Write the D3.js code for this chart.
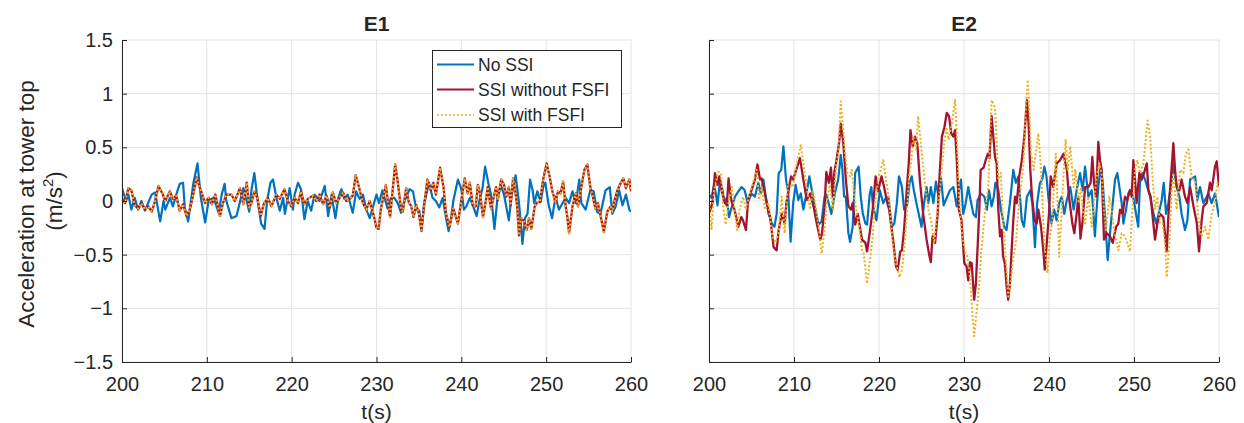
<!DOCTYPE html>
<html><head><meta charset="utf-8">
<script src="https://cdn.jsdelivr.net/npm/d3@7"></script>
<style>body{margin:0;background:#fff}svg{display:block}text{font-family:"Liberation Sans",Arial,sans-serif;fill:#262626}</style>
</head><body><svg id="c" width="1244" height="423"></svg>
<script>
const panels = ["E1", "E2"];
const seriesNames = ["No SSI", "SSI without FSFI", "SSI with FSFI"];
const xTicks = [200, 210, 220, 230, 240, 250, 260];
const yTicks = [-1.5, -1, -0.5, 0, 0.5, 1, 1.5];
const yTickLabels = ["\u22121.5", "\u22121", "\u22120.5", "0", "0.5", "1", "1.5"];

// E1 - No SSI
const e1BlueT = [200,200.47,200.75,201.1,201.5,201.9,202.3,202.7,203.5,203.9,204.5,204.9,205.1,205.65,206.0,206.4,206.8,207.2,207.4,207.8,208.4,208.9,209.3,209.8,210.2,210.8,211.4,211.75,212.1,212.3,212.9,213.5,214.3,214.7,215.0,215.25,215.6,216.0,216.4,216.8,217.1,217.5,217.8,218.2,218.6,219.0,219.2,219.76,220.15,220.35,220.75,221.1,221.5,221.9,222.3,222.7,223.3,223.9,224.3,224.7,225.15,225.5,225.85,226.2,226.6,227.2,227.6,228.0,228.4,228.8,229.2,230.0,230.3,230.7,231.3,231.7,232.1,232.5,232.9,233.3,233.9,234.3,234.7,235.05,235.3,235.6,236.2,236.6,237.0,237.4,237.8,238.2,238.5,238.8,239.05,239.6,240.0,240.3,240.6,241.0,241.4,241.8,242.2,242.5,242.8,243.2,243.5,243.9,244.3,244.7,245.05,245.6,245.9,246.4,246.8,247.05,247.2,247.5,247.8,248.1,248.4,248.6,248.96,249.35,249.7,249.9,250.3,250.7,251.1,251.5,252.3,252.7,253.1,253.5,253.9,254.15,254.65,255.2,255.6,256.0,256.4,257.0,257.5,257.8,258.2,258.6,259.0,259.4,259.8,260];
const e1BlueV = [0.12,0,0.06,-0.08,0.03,-0.08,0,-0.09,0.06,0.08,-0.19,0,-0.08,0.03,-0.05,0.06,0.16,0.17,-0.06,-0.19,0.16,0.35,0.03,-0.2,0,0.03,-0.11,0.06,0.16,0,-0.16,-0.14,0.12,0,-0.1,0.1,0.26,0,-0.21,-0.26,0,0.17,0.2,0.03,-0.09,0.03,-0.12,0.12,-0.08,0.06,0.17,0.11,-0.17,0,-0.09,0.06,0,0.14,-0.14,0.06,-0.16,0.03,0.11,0.02,0.06,-0.11,0.09,0.02,0.06,-0.08,-0.16,0.06,-0.02,0.1,-0.07,0.03,0.03,-0.02,-0.11,0,0.11,0.09,-0.08,-0.09,-0.28,-0.03,0.17,0.03,0,-0.06,0.03,-0.16,-0.28,-0.16,0,0.2,0.11,-0.08,-0.05,0.03,-0.05,-0.14,0.03,0.12,0.32,0.16,0.06,-0.26,0.06,0.14,0.05,-0.18,0.04,0.24,-0.02,-0.24,-0.4,-0.16,-0.12,0.2,0.1,-0.02,0.09,-0.01,0.15,0.17,-0.04,-0.16,0.04,-0.08,0.03,-0.02,0.09,-0.02,0.2,-0.02,-0.08,0.1,0.09,-0.1,-0.12,0.1,0.13,-0.12,-0.05,0.1,-0.04,0.06,-0.08,-0.1];

// E1 - SSI without FSFI and SSI with FSFI (curves coincide)
const e1SsiT = [200,200.35,200.75,201.1,201.5,201.9,202.3,202.7,203.1,203.5,203.9,204.3,204.7,205.1,205.65,206.0,206.4,206.8,207.2,207.6,208.0,208.4,208.8,209.2,209.8,210.2,210.6,211.0,211.55,211.9,212.3,212.9,213.3,213.9,214.3,214.7,215.0,215.25,215.6,215.95,216.35,216.7,217.2,217.6,218.2,218.6,219.15,219.55,219.95,220.35,220.75,221.1,221.5,221.9,222.5,222.9,223.3,223.7,224.1,224.5,224.85,225.25,225.65,226.05,226.45,226.85,227.2,227.55,227.8,228.4,228.8,229.2,229.75,230.0,230.25,230.5,230.9,231.1,231.4,231.6,231.9,232.2,232.5,232.9,233.1,233.5,233.8,234.1,234.35,234.7,235.0,235.3,235.6,236.0,236.4,236.7,237.0,237.5,237.9,238.2,238.6,239.05,239.6,240.0,240.4,240.75,241.0,241.35,241.7,241.95,242.2,242.55,242.95,243.1,243.5,244.1,244.3,244.7,245.03,245.3,245.6,245.8,246.1,246.4,246.6,246.8,247.05,247.4,247.7,247.98,248.25,248.65,248.96,249.25,249.65,250.05,250.4,250.7,251.1,251.4,251.7,252.0,252.3,252.5,252.7,253.1,253.5,253.75,254.15,254.5,254.85,255.2,255.45,255.8,256.1,256.6,256.8,257.2,257.6,257.8,258.0,258.4,258.8,259.1,259.4,259.8,260];
const e1SsiV = [0.03,-0.02,0.12,0.1,-0.04,-0.07,-0.02,-0.08,-0.05,-0.1,0,0.14,0.08,0,0.09,0.02,0.05,-0.09,-0.03,-0.14,-0.08,0.06,0.22,0.12,-0.02,0.03,-0.03,0.06,-0.14,-0.02,0.06,0.06,0,0.12,-0.03,0.17,-0.06,-0.02,0.09,0.03,-0.14,-0.03,0.03,-0.05,0.06,0.02,0.11,0,-0.05,0.03,-0.02,0.09,-0.03,0.02,0.05,0,0.06,-0.03,0.05,-0.06,0.08,-0.02,0.03,0.08,0,0.02,0.05,0.24,0.17,-0.02,-0.08,0,-0.16,-0.25,-0.26,-0.08,0.07,0.15,-0.04,-0.15,0.1,0.34,0.18,-0.08,-0.1,0.12,-0.01,-0.05,-0.15,-0.04,-0.12,-0.27,-0.05,0.2,0.1,0.17,0.06,0.31,0.13,-0.12,-0.24,-0.07,-0.21,0.01,0.21,0.07,0.17,-0.04,-0.05,0.15,0.07,-0.15,0.03,0.13,-0.07,0.13,0.01,0.2,0.15,0.04,0.13,-0.04,0.21,0.07,-0.07,-0.32,-0.16,-0.19,-0.27,-0.16,-0.26,-0.05,-0.01,-0.01,0.2,0.35,0.23,0.1,-0.01,0.09,0.07,0.18,-0.05,-0.15,-0.3,-0.05,0.07,-0.05,0.13,0.29,0.34,0.13,0.06,-0.07,-0.02,-0.21,-0.29,-0.1,-0.05,-0.1,-0.01,0.1,0.17,0.21,0.12,0.2,0.09];

// E2 - No SSI
const e2BlueT = [200,200.3,200.6,200.8,201.0,201.3,201.6,201.8,202.1,202.35,202.7,203.06,203.45,203.84,204.2,204.55,205.0,205.4,205.8,206.1,206.4,206.7,207.0,207.4,207.7,207.96,208.2,208.5,208.75,209.06,209.3,209.6,209.9,210.2,210.5,210.8,211.1,211.4,211.8,212.1,212.5,212.9,213.25,213.6,213.8,214.4,214.8,215.2,215.5,215.7,215.9,216.1,216.4,216.6,216.9,217.2,217.6,217.85,218.1,218.4,218.6,218.9,219.1,219.3,219.7,220.1,220.5,220.8,221.1,221.5,221.8,222.1,222.35,222.7,222.95,223.3,223.6,223.85,224.1,224.4,224.75,225.0,225.3,225.6,225.8,226.1,226.4,226.7,227.0,227.3,227.6,227.97,228.35,228.75,229.14,229.4,229.65,229.9,230.2,230.5,230.7,231.1,231.4,231.6,232.0,232.4,232.7,232.94,233.25,233.5,233.7,234.04,234.35,234.74,235.0,235.4,235.8,236.1,236.4,236.8,237.06,237.4,237.8,238.04,238.35,238.6,238.94,239.2,239.45,239.7,239.92,240.3,240.6,240.9,241.2,241.5,241.8,242.1,242.5,242.9,243.25,243.65,243.96,244.24,244.63,245.02,245.2,245.4,245.6,245.8,246.08,246.32,246.6,246.9,247.18,247.5,247.77,248.04,248.28,248.55,248.75,249.06,249.34,249.53,249.9,250.5,250.7,251.0,251.3,251.9,252.3,252.6,252.9,253.26,253.5,253.77,254.04,254.4,254.63,255.02,255.34,255.6,256.0,256.28,256.6,257.2,257.45,257.77,258.16,258.75,259.14,259.53,260];
const e2BlueV = [0.06,0.03,0.15,0.07,-0.04,0.2,0.1,-0.01,0.03,-0.15,-0.05,0.04,0.09,0.13,0.1,-0.02,0.07,0.04,0.17,0.07,0.2,0.03,-0.12,-0.21,-0.24,-0.12,0.26,0.29,0.51,0.2,0.1,-0.38,-0.02,0.15,0.01,0.07,-0.08,0.04,0.23,0.1,-0.08,-0.22,-0.19,0.04,0.06,-0.12,0.07,0.2,0.43,0.29,0.04,0.04,-0.3,-0.38,-0.24,0.26,0.32,0.04,-0.12,-0.21,-0.22,0.06,0.13,-0.05,-0.18,0.1,-0.02,0.03,0.04,-0.24,-0.21,-0.02,0.23,0.13,-0.08,-0.04,0.17,0.23,0.1,-0.02,-0.15,-0.24,-0.02,0.13,-0.02,0.13,-0.02,0.18,0.04,0.21,-0.04,0.03,0.1,0.13,-0.05,0.1,0.2,-0.12,-0.02,0.13,0.04,-0.12,-0.15,0.01,0.07,0.04,-0.08,0.1,-0.05,0.04,0.17,0.1,-0.08,-0.24,-0.27,-0.02,0.29,0.17,0.23,-0.18,-0.24,0.04,0.1,-0.02,-0.43,-0.02,0.17,0.2,0.32,0.23,0.04,-0.21,-0.08,-0.18,-0.02,0.04,-0.12,0.01,0.13,-0.08,0.1,0.26,0.1,0.32,0.04,0.1,-0.08,-0.33,-0.08,0.13,0.32,0.17,-0.15,-0.55,-0.3,-0.02,0.2,0.26,0.13,-0.02,-0.21,-0.08,0.07,0.1,0.04,-0.24,0.17,0.26,0.2,0.04,-0.12,-0.21,-0.12,0.01,0.17,-0.12,-0.02,0.17,0.35,0.13,0.04,-0.12,-0.27,-0.18,0.2,0.23,0.01,0.13,-0.02,0.07,-0.02,0.07,-0.15];

// E2 - SSI without FSFI
const e2RedT = [200,200.4,200.7,201.0,201.2,201.5,201.8,202.1,202.3,202.6,203.0,203.45,203.8,204.0,204.35,204.6,205.0,205.4,205.7,206.0,206.2,206.5,206.8,207.2,207.6,207.96,208.2,208.55,208.9,209.1,209.65,209.9,210.7,211.1,211.5,211.9,212.3,212.7,213.1,213.3,213.6,213.8,214.1,214.35,214.55,214.75,215.0,215.3,215.5,215.8,216.1,216.4,216.7,216.9,217.2,217.5,218.0,218.4,218.6,218.9,219.26,219.6,219.9,220.3,220.6,220.98,221.2,221.5,221.7,222.0,222.2,222.5,222.7,222.95,223.26,223.5,223.7,223.97,224.24,224.5,224.8,225.2,225.6,225.9,226.1,226.3,226.6,226.9,227.1,227.4,227.7,227.97,228.24,228.5,228.75,228.95,229.14,229.4,229.7,230.04,230.3,230.5,230.7,230.9,231.2,231.4,231.6,231.8,231.96,232.3,232.55,232.8,233.0,233.25,233.45,233.65,233.84,234.04,234.24,234.43,234.6,234.8,235.02,235.2,235.4,235.6,235.8,236.0,236.2,236.5,236.8,237.1,237.4,237.6,237.8,238.0,238.3,238.55,238.75,239.06,239.33,239.5,239.7,240.0,240.2,240.5,240.9,241.3,241.7,242.1,242.35,242.75,242.98,243.25,243.45,243.7,243.96,244.24,244.63,244.9,245.1,245.3,245.53,245.8,246.0,246.2,246.47,246.79,247.18,247.5,247.9,248.16,248.36,248.67,248.94,249.2,249.53,249.73,249.92,250.12,250.3,250.63,250.9,251.18,251.5,251.7,251.96,252.2,252.47,252.75,253.06,253.45,253.85,254.04,254.24,254.63,254.83,255.02,255.34,255.6,256.0,256.28,256.6,257.0,257.4,257.65,257.96,258.16,258.55,258.94,259.14,259.53,259.73,260];
const e2RedV = [-0.12,-0.02,0.26,0.15,0.23,0.09,-0.01,-0.04,0.21,0.01,-0.08,-0.24,-0.15,-0.18,-0.27,0.01,0.1,0.2,0.34,0.2,0.21,0.1,-0.02,-0.15,-0.43,-0.46,-0.27,-0.12,-0.21,-0.02,0.23,0.2,0.4,0.2,0.01,0.07,-0.05,-0.22,-0.36,-0.3,-0.05,0.27,0.17,0.31,0.04,0.27,0.38,0.54,0.72,0.54,0.2,-0.05,-0.08,-0.02,-0.22,-0.12,-0.36,-0.39,-0.47,-0.3,-0.08,0.23,0.09,0.23,0.13,-0.02,-0.08,-0.27,-0.39,-0.61,-0.64,-0.47,-0.46,-0.27,0.1,0.35,0.66,0.51,0.6,0.54,0.2,-0.12,-0.36,-0.5,-0.57,-0.33,-0.39,-0.12,0.2,0.6,0.69,0.82,0.79,0.63,0.6,0.66,0.4,-0.08,-0.18,-0.58,-0.61,-0.74,-0.57,-0.58,-0.92,-0.77,-0.43,-0.08,0.29,0.31,0.38,0.44,0.4,0.79,0.6,0.41,0.35,-0.08,-0.33,-0.27,-0.52,-0.58,-0.8,-0.92,-0.77,-0.46,-0.18,0.04,-0.02,0.23,0.38,0.6,0.94,0.72,0.29,0.04,-0.18,-0.21,-0.08,-0.24,-0.46,-0.64,-0.43,-0.12,0.23,0.13,0.35,0.38,0.44,0.29,0.04,-0.21,-0.3,-0.12,0.04,-0.35,-0.18,0.13,0.13,0.17,0.41,0.17,0.04,0.55,0.38,0.29,-0.36,-0.3,-0.33,-0.39,-0.24,-0.21,-0.08,-0.12,0.04,0.01,0.1,0.04,0.38,0.2,-0.02,0.26,0.2,0.26,0.35,0.1,0.04,-0.15,-0.36,-0.21,-0.12,-0.15,-0.47,-0.15,0.1,0.54,0.29,0.13,0.1,0.2,0.04,-0.02,0.13,-0.05,-0.21,-0.47,-0.18,-0.05,-0.02,0.17,0.1,0.32,0.37,0.13];

// E2 - SSI with FSFI
const e2YellowT = [200,200.3,200.6,201.1,201.4,201.7,201.96,202.3,202.7,203.3,203.6,204.0,204.35,204.8,205.2,205.6,205.9,206.2,206.6,207.0,207.45,207.8,208.2,208.55,208.9,209.3,209.85,210.4,210.8,211.2,211.5,211.9,212.2,212.5,212.9,213.25,213.6,213.8,214.2,214.6,214.95,215.2,215.5,215.8,216.0,216.3,216.6,216.8,217.1,217.4,217.7,218.0,218.2,218.6,218.9,219.26,219.5,219.9,220.5,220.8,220.98,221.3,221.6,222.0,222.4,222.7,222.95,223.26,223.55,223.8,224.04,224.36,224.6,225.0,225.4,225.8,226.2,226.5,226.8,227.2,227.6,227.9,228.2,228.55,228.95,229.1,229.3,229.5,229.8,230.2,230.4,230.7,230.9,231.2,231.5,231.8,232.0,232.3,232.55,232.86,233.06,233.25,233.6,233.73,234.04,234.35,234.55,234.74,234.9,235.2,235.5,235.8,236.1,236.4,237.0,237.25,237.5,237.65,237.9,238.2,238.43,238.75,239.06,239.33,239.5,239.84,240.1,240.4,240.6,240.8,241.0,241.2,241.4,241.7,241.96,242.2,242.5,242.9,243.1,243.5,243.76,244.0,244.24,244.63,245.02,245.3,245.6,245.92,246.2,246.47,246.7,247.1,247.38,247.65,248.16,248.55,248.94,249.53,249.73,250.12,250.4,250.7,251.1,251.3,251.6,251.9,252.2,252.47,252.75,253.06,253.37,253.65,253.85,254.16,254.43,254.63,255.02,255.41,255.8,256.1,256.4,256.8,257.2,257.6,257.96,258.35,258.75,259.14,259.53,259.8,260];
const e2YellowV = [0.01,-0.27,0.1,0.27,0.26,-0.08,-0.22,-0.02,0.13,-0.27,-0.08,0.04,-0.08,0.07,0.17,0.29,0.01,0.13,-0.08,-0.02,-0.33,-0.39,-0.3,0.04,-0.3,0.17,0.13,0.38,0.52,0.29,0.13,-0.08,0.1,-0.02,-0.24,-0.49,-0.27,-0.05,0.15,-0.08,0.32,0.44,0.93,0.66,0.44,0.26,0.23,0.29,0.04,-0.12,-0.24,-0.46,-0.49,-0.77,-0.58,-0.33,-0.05,0.2,0.38,0.2,0.13,-0.08,-0.39,-0.58,-0.71,-0.64,-0.46,-0.15,0.23,0.38,0.6,0.48,0.79,0.48,0.17,-0.08,-0.21,-0.39,-0.15,0.13,0.48,0.69,0.57,0.72,0.94,0.7,0.3,-0.08,-0.33,-0.49,-0.52,-0.71,-0.95,-1.26,-1.02,-0.77,-0.49,-0.24,-0.05,0.13,0.6,0.94,0.88,0.75,0.2,0.26,-0.15,-0.33,-0.52,-0.89,-0.74,-0.52,-0.39,-0.08,0.35,0.82,1.13,0.91,0.44,0.29,0.44,0.63,0.29,-0.18,-0.43,-0.67,-0.33,-0.18,0.17,0.44,-0.02,-0.52,-0.21,0.23,0.57,0.29,0.51,0.13,0.29,-0.02,0.13,-0.1,-0.21,0.04,-0.24,-0.02,0.23,0.35,0.26,-0.08,-0.27,0.04,-0.08,-0.27,-0.46,-0.3,-0.33,-0.47,-0.18,0.29,0.38,0.26,0.35,0.51,0.75,0.6,0.2,-0.08,0.04,-0.21,-0.21,-0.39,-0.71,-0.39,0.1,0.26,-0.08,0.29,0.26,0.44,0.48,0.2,0.2,-0.18,-0.33,-0.24,-0.36,-0.12,-0.02,0.17,0.13];

const colors = ["#0072BD", "#A2142F", "#EDB120"];

const svg = d3.select("#c");
const yScale = d3.scaleLinear().domain([-1.5, 1.5]).range([362, 40]);
const xRanges = [[122, 631], [709, 1219]];
const panelData = [
  [[e1BlueT, e1BlueV], [e1SsiT, e1SsiV], [e1SsiT, e1SsiV]],
  [[e2BlueT, e2BlueV], [e2RedT, e2RedV], [e2YellowT, e2YellowV]]
];

panels.forEach((name, p) => {
  const x = d3.scaleLinear().domain([200, 260]).range(xRanges[p]);
  const g = svg.append("g");
  // grid
  g.append("g").selectAll("line").data(xTicks).join("line")
    .attr("x1", d => x(d)).attr("x2", d => x(d)).attr("y1", 40).attr("y2", 362)
    .attr("stroke", "#e3e3e3").attr("stroke-width", 1);
  g.append("g").selectAll("line").data(yTicks).join("line")
    .attr("x1", xRanges[p][0]).attr("x2", xRanges[p][1]).attr("y1", d => yScale(d)).attr("y2", d => yScale(d))
    .attr("stroke", "#e3e3e3").attr("stroke-width", 1);

  // lines
  const clipId = "clip" + p;
  svg.append("clipPath").attr("id", clipId).append("rect")
    .attr("x", xRanges[p][0]).attr("y", 40).attr("width", xRanges[p][1] - xRanges[p][0]).attr("height", 322);
  const lg = g.append("g").attr("clip-path", `url(#${clipId})`);
  panelData[p].forEach(([T, V], s) => {
    const pts = T.map((t, i) => [t, V[i]]);
    const line = d3.line().x(d => x(d[0])).y(d => yScale(d[1]));
    const path = lg.append("path").datum(pts).attr("d", line)
      .attr("fill", "none").attr("stroke", colors[s])
      .attr("stroke-linejoin", "round");
    if (s === 0) path.attr("stroke-width", 2.2);
    if (s === 1) path.attr("stroke-width", 2.3);
    if (s === 2) path.attr("stroke-width", 2).attr("stroke-dasharray", "2,2");
  });

  // axes
  const xAxis = d3.axisBottom(x).tickValues(xTicks).tickSizeInner(-5).tickSizeOuter(0).tickPadding(15).tickFormat(d3.format("d"));
  const yAxis = d3.axisLeft(yScale).tickValues(yTicks).tickSizeInner(-5).tickSizeOuter(0).tickPadding(9)
    .tickFormat((d, i) => p === 0 ? yTickLabels[i] : "");
  const gx = g.append("g").attr("transform", "translate(0,362)").call(xAxis);
  const gy = g.append("g").attr("transform", `translate(${xRanges[p][0]},0)`).call(yAxis);
  [gx, gy].forEach(a => {
    a.select(".domain").attr("stroke", "#262626").attr("stroke-width", 1);
    a.selectAll(".tick line").attr("stroke", "#262626");
    a.selectAll("text").attr("font-size", 20).attr("fill", "#262626")
      .attr("font-family", '"Liberation Sans",Arial,sans-serif');
  });

  const cx = (xRanges[p][0] + xRanges[p][1]) / 2;
  g.append("text").attr("x", cx).attr("y", 31).attr("text-anchor", "middle")
    .attr("font-size", 21).attr("font-weight", "bold").text(name);
  g.append("text").attr("x", cx).attr("y", 419).attr("text-anchor", "middle")
    .attr("font-size", 21).text("t(s)");
});

// y label
const yl = svg.append("text").attr("transform", "translate(34,204) rotate(-90)")
  .attr("text-anchor", "middle").attr("font-size", 22.5);
yl.append("tspan").attr("x", 0).attr("y", 0).text("Acceleration at tower top");
const yl2 = svg.append("text").attr("transform", "translate(62,201) rotate(-90)")
  .attr("text-anchor", "middle").attr("font-size", 22.5);
yl2.append("tspan").text("(m/s");
yl2.append("tspan").attr("font-size", 15).attr("dy", -9).text("2");
yl2.append("tspan").attr("dy", 9).text(")");

// legend
const leg = svg.append("g");
leg.append("rect").attr("x", 432.5).attr("y", 50.5).attr("width", 189).attr("height", 77)
  .attr("fill", "#fff").attr("stroke", "#262626").attr("stroke-width", 1);
const rowY = [64.5, 89.5, 115];
seriesNames.forEach((n, i) => {
  const l = leg.append("line").attr("x1", 437).attr("x2", 474).attr("y1", rowY[i]).attr("y2", rowY[i])
    .attr("stroke", colors[i]).attr("stroke-width", 2);
  if (i === 2) l.attr("stroke-dasharray", "2,2").attr("stroke-width", 1.6);
  leg.append("text").attr("x", 478).attr("y", rowY[i]).attr("dy", "0.36em")
    .attr("font-size", 17.5).text(n);
});
</script></body></html>
